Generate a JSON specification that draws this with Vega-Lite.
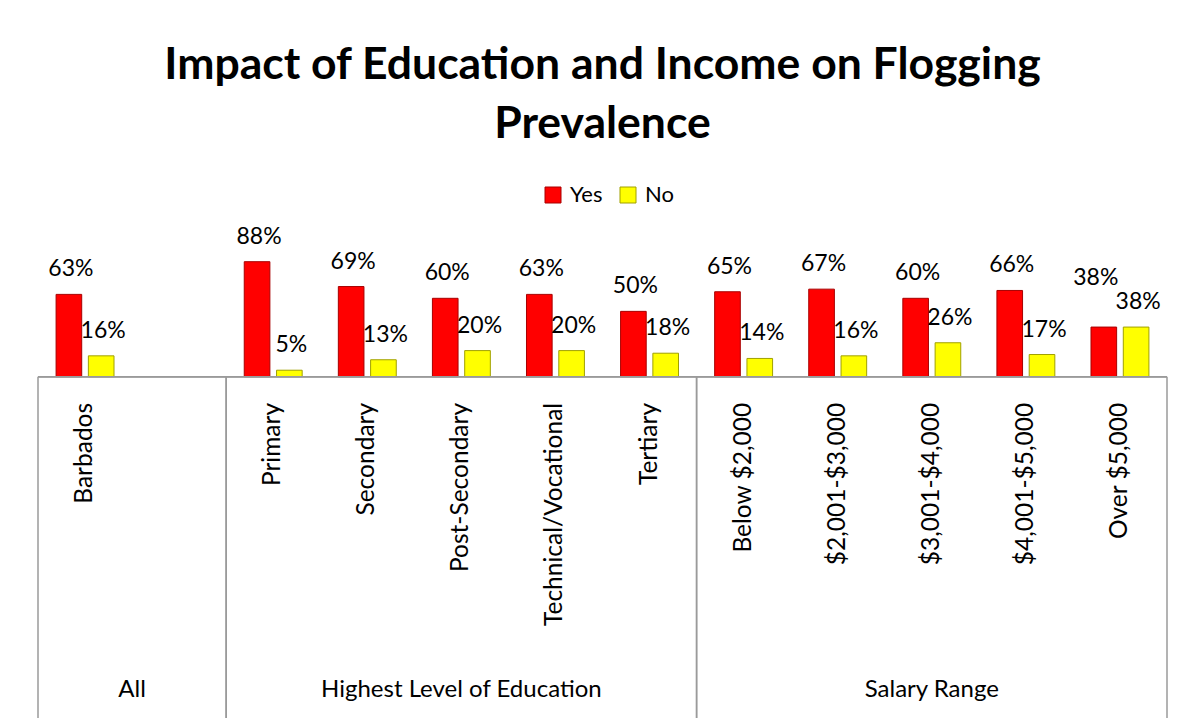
{
  "$schema": "https://vega.github.io/schema/vega-lite/v6.json",
  "width": 1129,
  "height": 472,
  "autosize": {"type": "none"},
  "padding": {"left": 38, "top": 246, "right": 15, "bottom": 7},
  "background": "white",
  "title": {
    "text": ["Impact of Education and Income on Flogging", "Prevalence"],
    "font": "Lato",
    "fontSize": 44.5,
    "fontWeight": "bold",
    "color": "#000000",
    "lineHeight": 59,
    "anchor": "middle",
    "offset": 37
  },
  "datasets": {
    "bars": [
      {"cat": "Barbados", "group": "All", "resp": "Yes", "value": 0.63},
      {"cat": "Barbados", "group": "All", "resp": "No", "value": 0.16},
      {"cat": "Primary", "group": "Highest Level of Education", "resp": "Yes", "value": 0.88},
      {"cat": "Primary", "group": "Highest Level of Education", "resp": "No", "value": 0.05},
      {"cat": "Secondary", "group": "Highest Level of Education", "resp": "Yes", "value": 0.69},
      {"cat": "Secondary", "group": "Highest Level of Education", "resp": "No", "value": 0.13},
      {"cat": "Post-Secondary", "group": "Highest Level of Education", "resp": "Yes", "value": 0.60},
      {"cat": "Post-Secondary", "group": "Highest Level of Education", "resp": "No", "value": 0.20},
      {"cat": "Technical/Vocational", "group": "Highest Level of Education", "resp": "Yes", "value": 0.63},
      {"cat": "Technical/Vocational", "group": "Highest Level of Education", "resp": "No", "value": 0.20},
      {"cat": "Tertiary", "group": "Highest Level of Education", "resp": "Yes", "value": 0.50},
      {"cat": "Tertiary", "group": "Highest Level of Education", "resp": "No", "value": 0.18},
      {"cat": "Below $2,000", "group": "Salary Range", "resp": "Yes", "value": 0.65},
      {"cat": "Below $2,000", "group": "Salary Range", "resp": "No", "value": 0.14},
      {"cat": "$2,001-$3,000", "group": "Salary Range", "resp": "Yes", "value": 0.67},
      {"cat": "$2,001-$3,000", "group": "Salary Range", "resp": "No", "value": 0.16},
      {"cat": "$3,001-$4,000", "group": "Salary Range", "resp": "Yes", "value": 0.60},
      {"cat": "$3,001-$4,000", "group": "Salary Range", "resp": "No", "value": 0.26},
      {"cat": "$4,001-$5,000", "group": "Salary Range", "resp": "Yes", "value": 0.66},
      {"cat": "$4,001-$5,000", "group": "Salary Range", "resp": "No", "value": 0.17},
      {"cat": "Over $5,000", "group": "Salary Range", "resp": "Yes", "value": 0.38},
      {"cat": "Over $5,000", "group": "Salary Range", "resp": "No", "value": 0.38}
    ],
    "groups": [
      {"group": "All", "first": "Barbados", "last": " ", "mid": "Barbados"},
      {"group": "Highest Level of Education", "first": "Primary", "last": "Tertiary", "mid": "Post-Secondary"},
      {"group": "Salary Range", "first": "Below $2,000", "last": "Over $5,000", "mid": "$3,001-$4,000"}
    ]
  },
  "layer": [
    {
      "data": {"name": "bars"},
      "mark": {"type": "bar", "strokeWidth": 1},
      "encoding": {
        "x": {
          "field": "cat",
          "type": "nominal",
          "sort": null,
          "scale": {
            "domain": ["Barbados", " ", "Primary", "Secondary", "Post-Secondary", "Technical/Vocational", "Tertiary", "Below $2,000", "$2,001-$3,000", "$3,001-$4,000", "$4,001-$5,000", "Over $5,000"],
            "paddingInner": 0,
            "paddingOuter": 0
          },
          "axis": null
        },
        "xOffset": {
          "field": "resp",
          "type": "nominal",
          "scale": {"domain": ["Yes", "No"], "paddingInner": 0.206, "paddingOuter": 0.56}
        },
        "y": {
          "field": "value",
          "type": "quantitative",
          "scale": {"domain": [-2.61, 1], "nice": false, "zero": false},
          "axis": null
        },
        "color": {
          "field": "resp",
          "type": "nominal",
          "scale": {"domain": ["Yes", "No"], "range": ["#FF0000", "#FFFF00"]},
          "legend": {"title": null}
        },
        "stroke": {
          "field": "resp",
          "type": "nominal",
          "scale": {"domain": ["Yes", "No"], "range": ["#A80000", "#A0A000"]},
          "legend": {"title": null}
        }
      }
    },
    {
      "data": {"name": "bars"},
      "transform": [{"filter": "!(datum.cat === 'Over $5,000' && datum.resp === 'Yes')"}],
      "mark": {"type": "text", "baseline": "alphabetic", "dy": -18, "dx": 2, "fontSize": 23, "color": "#000000"},
      "encoding": {
        "x": {"field": "cat", "type": "nominal"},
        "xOffset": {"field": "resp", "type": "nominal"},
        "y": {"field": "value", "type": "quantitative"},
        "text": {"field": "value", "type": "quantitative", "format": ".0%"}
      }
    },
    {
      "data": {"name": "bars"},
      "transform": [{"filter": "datum.cat === 'Over $5,000' && datum.resp === 'Yes'"}],
      "mark": {"type": "text", "baseline": "alphabetic", "dy": -42, "dx": -8, "fontSize": 23, "color": "#000000"},
      "encoding": {
        "x": {"field": "cat", "type": "nominal"},
        "xOffset": {"field": "resp", "type": "nominal"},
        "y": {"field": "value", "type": "quantitative"},
        "text": {"field": "value", "type": "quantitative", "format": ".0%"}
      }
    },
    {
      "data": {"name": "bars"},
      "transform": [{"filter": "datum.resp === 'Yes'"}],
      "mark": {"type": "text", "angle": 270, "align": "right", "baseline": "middle", "fontSize": 24.5, "color": "#000000"},
      "encoding": {
        "x": {"field": "cat", "type": "nominal"},
        "y": {"datum": -0.2},
        "text": {"field": "cat", "type": "nominal"}
      }
    },
    {
      "data": {"name": "groups"},
      "mark": {"type": "rule", "color": "#9A9A9A", "strokeWidth": 1.5},
      "encoding": {
        "x": {"field": "first", "type": "nominal", "bandPosition": 0},
        "y": {"datum": 0},
        "y2": {"datum": -2.61}
      }
    },
    {
      "data": {"name": "groups"},
      "mark": {"type": "rule", "color": "#9A9A9A", "strokeWidth": 1.5},
      "encoding": {
        "x": {"field": "last", "type": "nominal", "bandPosition": 1},
        "y": {"datum": 0},
        "y2": {"datum": -2.61}
      }
    },
    {
      "data": {"name": "groups"},
      "mark": {"type": "rule", "color": "#9A9A9A", "strokeWidth": 1.5},
      "encoding": {
        "y": {"datum": 0}
      }
    },
    {
      "data": {"name": "groups"},
      "transform": [{"filter": "datum.group === 'All'"}],
      "mark": {"type": "text", "baseline": "alphabetic", "fontSize": 24, "color": "#000000"},
      "encoding": {
        "x": {"field": "mid", "type": "nominal", "bandPosition": 1},
        "y": {"datum": -2.45},
        "text": {"field": "group", "type": "nominal"}
      }
    },
    {
      "data": {"name": "groups"},
      "transform": [{"filter": "datum.group !== 'All'"}],
      "mark": {"type": "text", "baseline": "alphabetic", "fontSize": 24, "color": "#000000"},
      "encoding": {
        "x": {"field": "mid", "type": "nominal", "bandPosition": 0.5},
        "y": {"datum": -2.45},
        "text": {"field": "group", "type": "nominal"}
      }
    }
  ],
  "config": {
    "font": "Lato",
    "view": {"stroke": null},
    "legend": {
      "orient": "none",
      "legendX": 504,
      "legendY": -62,
      "direction": "horizontal",
      "symbolType": "square",
      "symbolSize": 256,
      "symbolStrokeWidth": 1,
      "labelFontSize": 22,
      "labelFont": "Lato",
      "labelColor": "#000000",
      "labelOffset": 6,
      "columnPadding": 14
    }
  }
}
